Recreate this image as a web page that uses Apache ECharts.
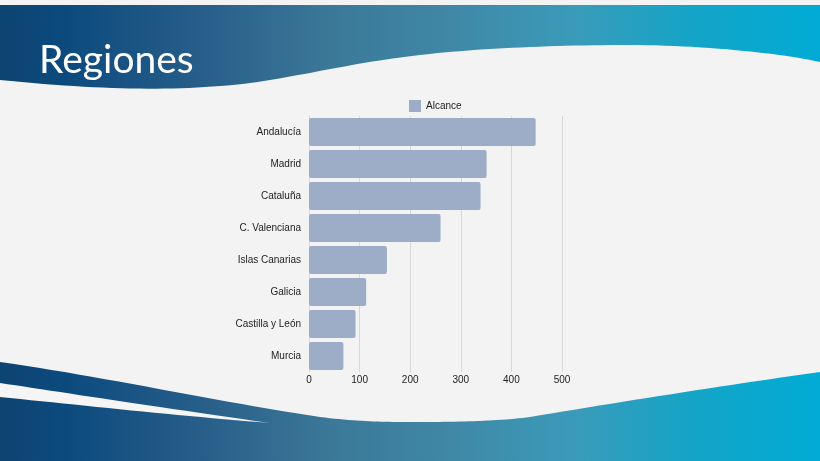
<!DOCTYPE html>
<html>
<head>
<meta charset="utf-8">
<script src="https://cdn.jsdelivr.net/npm/echarts@6/dist/echarts.min.js"></script>
<style>
html,body{margin:0;padding:0;background:#f3f3f3;}
#chart{width:820px;height:461px;}
</style>
</head>
<body>
<div id="chart"></div>
<script>
const titleText = 'Regiones';
const seriesName = 'Alcance';
const categories = ['Andalucía','Madrid','Cataluña','C. Valenciana','Islas Canarias','Galicia','Castilla y León','Murcia'];
const values = [448, 351, 339, 260, 154, 113, 92, 68];
const xTicks = [0, 100, 200, 300, 400, 500];

const gradStops = [
  {offset: 0, color: '#0c4472'},
  {offset: 0.08, color: '#0c4a7e'},
  {offset: 0.25, color: '#285f8a'},
  {offset: 0.4, color: '#3b7898'},
  {offset: 0.55, color: '#3f88a6'},
  {offset: 0.7, color: '#3a9bb9'},
  {offset: 0.85, color: '#13a5c8'},
  {offset: 1, color: '#00abd5'}
];
function makeGrad() {
  return new echarts.graphic.LinearGradient(0, 0, 820, 0, gradStops, true);
}
// convert simple path commands into polygon points (cubic curves sampled)
function toPoints(cmds) {
  const pts = [];
  let cx = 0, cy = 0;
  cmds.forEach(c => {
    if (c[0] === 'M' || c[0] === 'L') { cx = c[1]; cy = c[2]; pts.push([cx, cy]); }
    else if (c[0] === 'C') {
      const [, x1, y1, x2, y2, x, y] = c;
      for (let i = 1; i <= 24; i++) {
        const t = i / 24, u = 1 - t;
        pts.push([
          u*u*u*cx + 3*u*u*t*x1 + 3*u*t*t*x2 + t*t*t*x,
          u*u*u*cy + 3*u*u*t*y1 + 3*u*t*t*y2 + t*t*t*y
        ]);
      }
      cx = x; cy = y;
    }
  });
  return pts;
}
const headerShape = toPoints([['M',0,5],['L',820,5],['L',820,62],['C',780,53,700,45,628,45],['C',560,45,480,48,420,55],['C',340,64,280,82,220,86],['C',160,91,90,89,0,80]]);
const footerShape = toPoints([['M',0,362],['C',100,376,220,402,320,417],['C',360,422,390,422,418,422],['C',460,422,500,421,530,417],['C',620,402,720,386,820,372],['L',820,461],['L',0,461]]);
const stripeShape = toPoints([['M',0,383],['C',60,392,150,406,270,423],['C',180,416,80,405,0,397]]);

const chart = echarts.init(document.getElementById('chart'), null, {renderer: 'canvas'});
chart.setOption({
  backgroundColor: '#f3f3f3',
  animation: false,
  textStyle: {fontFamily: 'Liberation Sans, Arial, sans-serif'},
  graphic: [
    {type: 'polygon', z: -10, shape: {points: headerShape}, style: {fill: makeGrad()}},
    {type: 'polygon', z: -10, shape: {points: footerShape}, style: {fill: makeGrad()}},
    {type: 'polygon', z: -9, shape: {points: stripeShape}, style: {fill: '#f5f5f5'}},
    {type: 'text', z: 10, left: 39, top: 41, style: {text: titleText, fill: '#ffffff', fontSize: 39, fontFamily: 'Lato, sans-serif', fontWeight: 400}}
  ],
  legend: {
    data: [seriesName], left: 409, top: 100, padding: 0, icon: 'rect', itemWidth: 12, itemHeight: 12, itemGap: 5,
    textStyle: {fontSize: 10, color: '#222', fontFamily: 'Liberation Sans, Arial, sans-serif'}
  },
  grid: {left: 309, top: 116, width: 253, height: 256, containLabel: false},
  xAxis: {
    type: 'value', min: xTicks[0], max: xTicks[xTicks.length - 1], interval: 100,
    axisLine: {show: false}, axisTick: {show: false},
    axisLabel: {fontSize: 10, color: '#222', margin: 3},
    splitLine: {lineStyle: {color: '#d8d8d8', width: 1}}
  },
  yAxis: {
    type: 'category', inverse: true, data: categories,
    axisLine: {show: false}, axisTick: {show: false},
    axisLabel: {fontSize: 10, color: '#222', margin: 8}
  },
  series: [{
    name: seriesName, type: 'bar', data: values, barCategoryGap: '12%',
    itemStyle: {color: '#9dadc8', borderRadius: 2}
  }]
});
</script>
</body>
</html>
